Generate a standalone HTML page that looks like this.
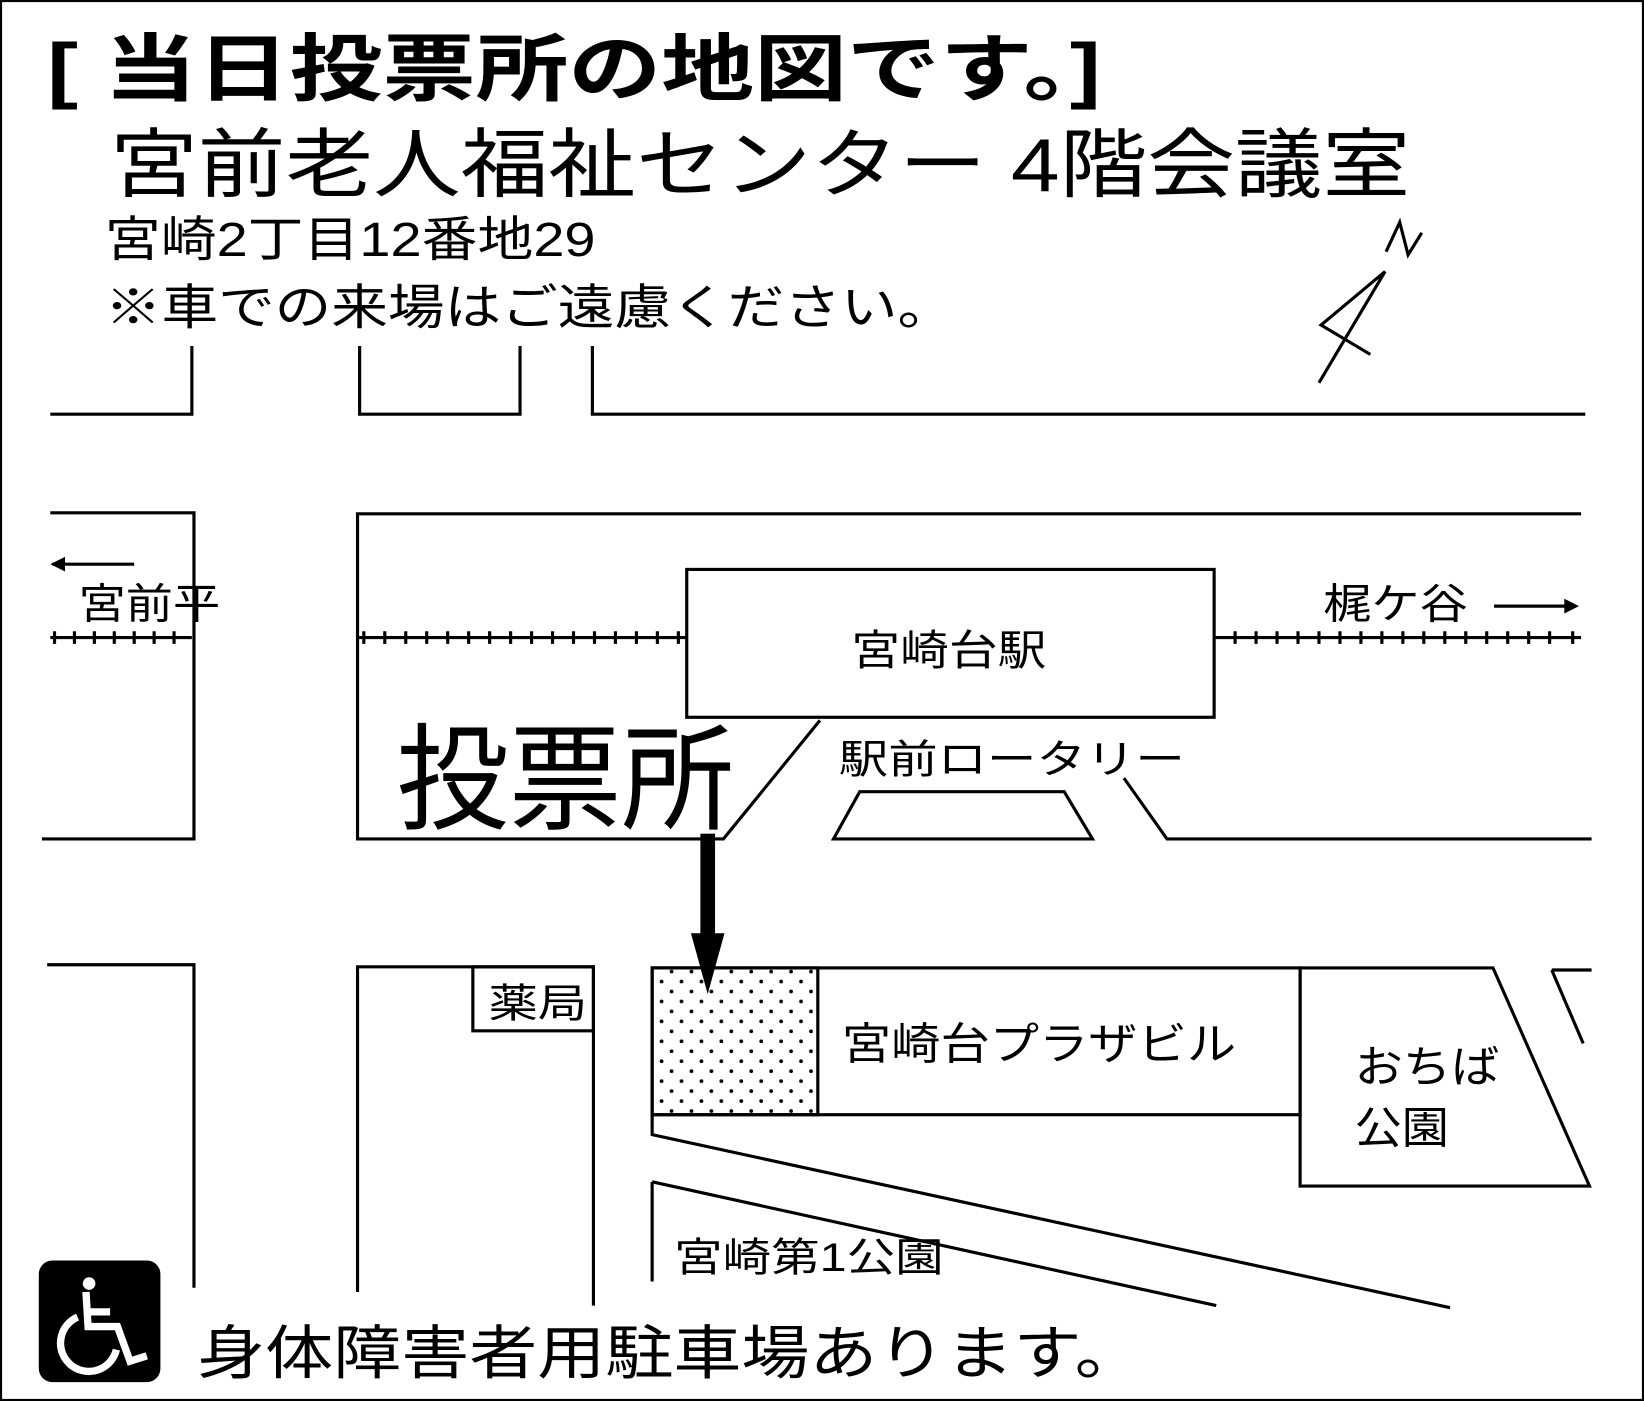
<!DOCTYPE html>
<html><head><meta charset="utf-8"><style>
html,body{margin:0;padding:0;background:#fff}
svg{display:block}
text{font-family:"Liberation Sans","Noto Sans CJK JP",sans-serif;fill:#000}
</style></head><body>
<svg width="1644" height="1401" viewBox="0 0 1568 1336" preserveAspectRatio="none" xmlns="http://www.w3.org/2000/svg">
<rect x="1" y="1" width="1566" height="1334" fill="#fff" stroke="#000" stroke-width="2"/>
<defs><pattern id="dots" width="19" height="19" patternUnits="userSpaceOnUse"><circle cx="4" cy="5" r="1.8" fill="#000"/><circle cx="13.5" cy="14.5" r="1.8" fill="#000"/></pattern></defs>
<text x="45" y="90" font-size="70" font-weight="bold" textLength="1005" lengthAdjust="spacingAndGlyphs">[ 当日投票所の地図です。]</text>
<text x="105" y="182" font-size="72" textLength="1240" lengthAdjust="spacingAndGlyphs">宮前老人福祉センター 4階会議室</text>
<text x="100" y="244" font-size="46" textLength="468" lengthAdjust="spacingAndGlyphs">宮崎2丁目12番地29</text>
<text x="100" y="309" font-size="46" textLength="810" lengthAdjust="spacingAndGlyphs">※車での来場はご遠慮ください。</text>
<g fill="none" stroke="#000" stroke-width="3">
<polyline points="1258,365 1321,259 1260,310 1307,338"/>
<polyline points="1322,240 1335,212 1343,243 1356,222"/>
<polyline points="48,395 183,395 183,330"/>
<polyline points="343,330 343,395 496,395 496,330"/>
<polyline points="565,330 565,395 1512,395"/>
<polyline points="48,489 185,489 185,800 40,800"/>
<polyline points="1508,490 341,490 341,800 690,800 782,687"/>
<rect x="655" y="543" width="503" height="141"/>
<polyline points="1072,742 1113,800 1518,800"/>
<polygon points="795,800 820,755 1015,755 1042,800"/>
<polyline points="45,920 185,920 185,1228"/>
<polyline points="341,1232 341,922 566,922 566,1245"/>
<rect x="451" y="922" width="115" height="61"/>
<rect x="622" y="923" width="158" height="140" fill="url(#dots)"/>
<rect x="622" y="923" width="618" height="140"/>
<polygon points="1240,923 1424,923 1516,1131 1240,1131"/>
<polyline points="1480,925 1518,925"/>
<polyline points="1480,925 1510,995"/>
<polyline points="622,1063 622,1082 1383,1247"/>
<polyline points="622,1127 622,1222"/>
<polyline points="622,1127 1160,1245"/>
<line x1="48" y1="608" x2="183" y2="608"/>
<line x1="340" y1="608" x2="655" y2="608"/>
<line x1="1158" y1="608" x2="1508" y2="608"/>
<line x1="50" y1="538" x2="128" y2="538"/>
<line x1="1425" y1="578" x2="1500" y2="578"/>
</g>
<g stroke="#000" stroke-width="3">
<path d="M52 602v12M71 602v12M90 602v12M109 602v12M128 602v12M147 602v12M166 602v12
M347 602v12M367 602v12M387 602v12M407 602v12M427 602v12M447 602v12M467 602v12M487 602v12M507 602v12M527 602v12M547 602v12M567 602v12M587 602v12M607 602v12M627 602v12M647 602v12
M1178 602v12M1198 602v12M1218 602v12M1238 602v12M1258 602v12M1278 602v12M1298 602v12M1318 602v12M1338 602v12M1358 602v12M1378 602v12M1398 602v12M1418 602v12M1438 602v12M1458 602v12M1478 602v12M1500 602v12"/>
</g>
<polygon points="48,538 62,531 62,545" fill="#000"/>
<polygon points="1506,578 1492,571 1492,585" fill="#000"/>
<rect x="668" y="795" width="14" height="97" fill="#000"/>
<polygon points="659,890 691,890 675,948" fill="#000"/>
<text x="75" y="590" font-size="40" textLength="135" lengthAdjust="spacingAndGlyphs">宮前平</text>
<text x="1262" y="590" font-size="40" textLength="138" lengthAdjust="spacingAndGlyphs">梶ケ谷</text>
<text x="812" y="634" font-size="40" textLength="186" lengthAdjust="spacingAndGlyphs">宮崎台駅</text>
<text x="378" y="782" font-size="110" textLength="322" lengthAdjust="spacingAndGlyphs">投票所</text>
<text x="800" y="737" font-size="38" textLength="330" lengthAdjust="spacingAndGlyphs">駅前ロータリー</text>
<text x="466" y="970" font-size="38" textLength="94" lengthAdjust="spacingAndGlyphs">薬局</text>
<text x="803" y="1010" font-size="42" textLength="376" lengthAdjust="spacingAndGlyphs">宮崎台プラザビル</text>
<text x="1292" y="1032" font-size="42" textLength="138" lengthAdjust="spacingAndGlyphs">おちば</text>
<text x="1292" y="1090" font-size="42" textLength="90" lengthAdjust="spacingAndGlyphs">公園</text>
<text x="643" y="1212" font-size="38" textLength="257" lengthAdjust="spacingAndGlyphs">宮崎第1公園</text>
<text x="188" y="1310" font-size="56" textLength="902" lengthAdjust="spacingAndGlyphs">身体障害者用駐車場あります。</text>
<rect x="37" y="1202" width="116" height="116" rx="13" fill="#000"/>
<g fill="none" stroke="#fff" stroke-width="7">
<circle cx="85" cy="1224" r="6" fill="#fff" stroke="none"/>
<polyline points="82,1232 84,1265 112,1265 124,1298 140,1293"/>
<line x1="84" y1="1251" x2="105" y2="1251"/>
<path d="M74 1256 A27 27 0 1 0 111 1287"/>
</g>
</svg>
</body></html>
